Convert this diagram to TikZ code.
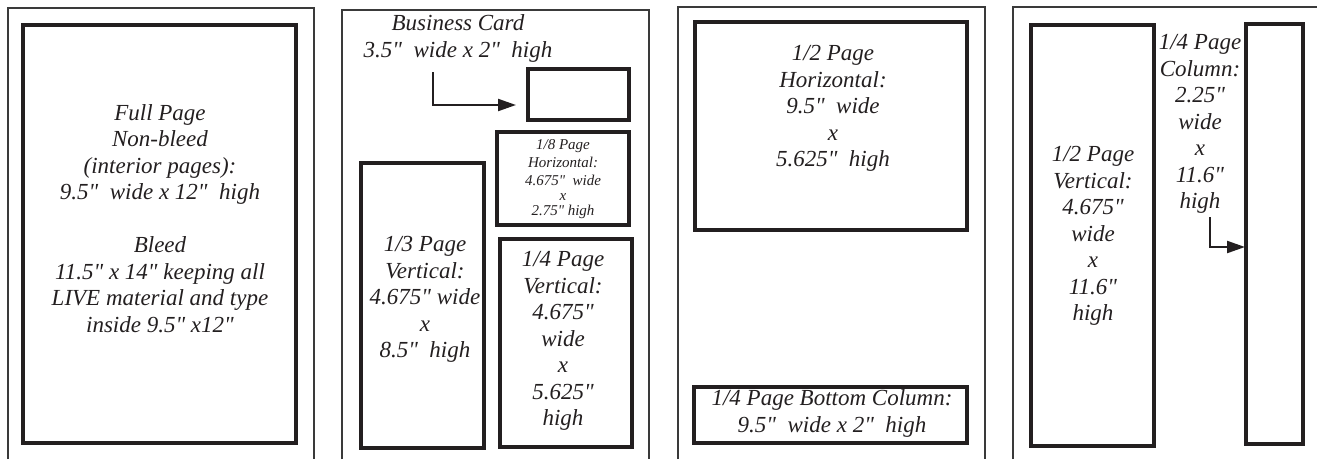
\documentclass[tikz,border=0pt]{standalone}
\usepackage{fontspec}
\setmainfont{Liberation Serif}[Ligatures=TeXOff]
\usetikzlibrary{arrows.meta}
\definecolor{ink}{HTML}{231F20}
\definecolor{frame}{HTML}{3A3A3A}
\tikzset{
  outerframe/.style={draw=frame, line width=2.4pt},
  adbox/.style={draw=ink, line width=3.2pt, inner sep=0pt, rectangle},
  label/.style={text=ink, align=center, inner sep=0pt, font=\itshape\fontsize{23}{26.5}\selectfont},
  smalllabel/.style={text=ink, align=center, inner sep=0pt, font=\itshape\fontsize{15}{18}\selectfont},
  pointer/.style={draw=ink, line width=2.2pt, -{Triangle[length=18pt,width=12pt]}}
}
\begin{document}
\begin{tikzpicture}[x=1pt,y=-1pt]
\useasboundingbox (0,0) rectangle (1317,459);
% outer frames
\draw[outerframe] (8,459) -- (8,8) -- (314,8) -- (314,459);
\draw[outerframe] (342,459) -- (342,10) -- (649,10) -- (649,459);
\draw[outerframe] (678,459) -- (678,7) -- (985,7) -- (985,459);
\draw[outerframe] (1013,459) -- (1013,7) -- (1320,7);
% panel 1
\node[adbox, minimum width=273pt, minimum height=418pt] (full) at (159.5,234) {};
\node[label] (fulltxt) at (160,218.5) {Full Page\\Non-bleed\\(interior pages):\\9.5"\ \ wide x 12"\ \ high\\[26.5pt]Bleed\\11.5" x 14" keeping all\\LIVE material and type\\inside 9.5" x12"};
% panel 2
\node[label] (bctxt) at (458,38.5) {Business Card\\3.5"\ \ wide x 2"\ \ high};
\node[adbox, minimum width=101pt, minimum height=51pt] (card) at (578.5,94.5) {};
\coordinate (bcstart) at (433,72);
\coordinate (bcend) at (516,105);
\draw[pointer] (bcstart) |- (bcend);
\node[adbox, minimum width=132pt, minimum height=93pt] (eighth) at (563,178.5) {};
\node[smalllabel] (eighthtxt) at (563,179) {1/8 Page\\Horizontal:\\4.675"\ \ wide\\[-3pt]x\\[-3pt]2.75"\ high};
\node[adbox, minimum width=123pt, minimum height=285pt] (third) at (422.5,305.5) {};
\node[label] (thirdtxt) at (425,299.5) {1/3 Page\\Vertical:\\4.675" wide\\x\\8.5"\ \ high};
\node[adbox, minimum width=132pt, minimum height=208pt] (quarter) at (566,343) {};
\node[label] (quartertxt) at (563,341) {1/4 Page\\Vertical:\\4.675"\\wide\\x\\5.625"\\high};
% panel 3
\node[adbox, minimum width=272pt, minimum height=208pt] (halfh) at (831,126) {};
\node[label] (halfhtxt) at (833,108.5) {1/2 Page\\Horizontal:\\9.5"\ \ wide\\x\\5.625"\ \ high};
\node[adbox, minimum width=273pt, minimum height=56pt] (bottom) at (830.5,415) {};
\node[label] (bottomtxt) at (832,413.5) {1/4 Page Bottom Column:\\9.5"\ \ wide x 2"\ \ high};
% panel 4
\node[adbox, minimum width=123pt, minimum height=421pt] (halfv) at (1092.5,235.5) {};
\node[label] (halfvtxt) at (1093,236) {1/2 Page\\Vertical:\\4.675"\\wide\\x\\11.6"\\high};
\node[adbox, minimum width=57pt, minimum height=420pt] (column) at (1274.5,234) {};
\node[label] (columntxt) at (1200,124) {1/4 Page\\Column:\\2.25"\\wide\\x\\11.6"\\high};
\coordinate (colstart) at (1210,217);
\coordinate (colend) at (1245,247);
\draw[pointer] (colstart) |- (colend);
\end{tikzpicture}
\end{document}
